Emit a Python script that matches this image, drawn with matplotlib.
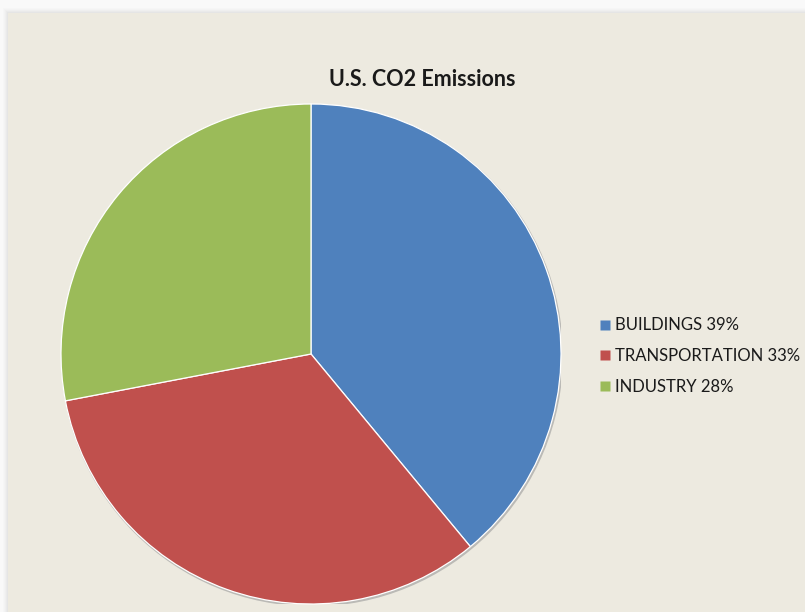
import matplotlib
matplotlib.use('Agg')
import matplotlib.pyplot as plt
from matplotlib.patches import Rectangle, Circle
from matplotlib.lines import Line2D

# CO2 emission shares by sector
sectors = ['BUILDINGS', 'TRANSPORTATION', 'INDUSTRY']
shares = [39, 33, 28]
colors = ['#4F81BD', '#C0504D', '#9BBB59']

plt.rcParams['font.family'] = ['Lato', 'DejaVu Sans']

W, H = 805, 612
fig = plt.figure(figsize=(W / 100, H / 100), dpi=100)
fig.patch.set_facecolor('#F9F9F9')

# beige chart area with a soft shadow along the top and left
for i, a in enumerate([0.03, 0.04, 0.05, 0.06, 0.07]):
    off = 5 - i
    fig.patches.append(Rectangle(((8 - off) / W, 0), 1, (H - 13 + off) / H,
                                 transform=fig.transFigure, facecolor='#AAAAAA',
                                 alpha=a, edgecolor='none', zorder=-3))
fig.patches.append(Rectangle((8 / W, 0), 1, (H - 13) / H, transform=fig.transFigure,
                             facecolor='#EDEAE0', edgecolor='none', zorder=-2))

# pie axes: centre (311, 354), radius 250 px
ax = fig.add_axes([61 / W, (H - 604) / H, 500 / W, 500 / H])
ax.set_zorder(1)
# faint shadow round the rim
ax.add_patch(Circle((0.004, -0.006), 1.004, facecolor='#9A9A9A', edgecolor='none',
                    alpha=0.6, zorder=0))
wedges, _ = ax.pie(shares, colors=colors, startangle=90, counterclock=False,
                   wedgeprops=dict(edgecolor='white', linewidth=0.9, zorder=1))
ax.set_xlim(-1.0, 1.0)
ax.set_ylim(-1.0, 1.0)
ax.set_aspect('equal')
ax.axis('off')

fig.text(422 / W, 1 - 79 / H, 'U.S. CO2 Emissions', ha='center', va='center',
         fontsize=15.5, fontweight='bold', color='#1A1A1A')

labels = [f'{s} {v}%' for s, v in zip(sectors, shares)]
handles = [Line2D([], [], marker='s', linestyle='none', markersize=7,
                  markerfacecolor=c, markeredgecolor='none') for c in colors]
fig.legend(handles, labels, loc='center left', bbox_to_anchor=(592 / W, 1 - 356 / H),
           frameon=False, fontsize=12.0, handlelength=0.6, handletextpad=0.3,
           labelspacing=0.88, borderpad=0, labelcolor='#1A1A1A')

fig.savefig('out.png', dpi=100, facecolor=fig.get_facecolor())
